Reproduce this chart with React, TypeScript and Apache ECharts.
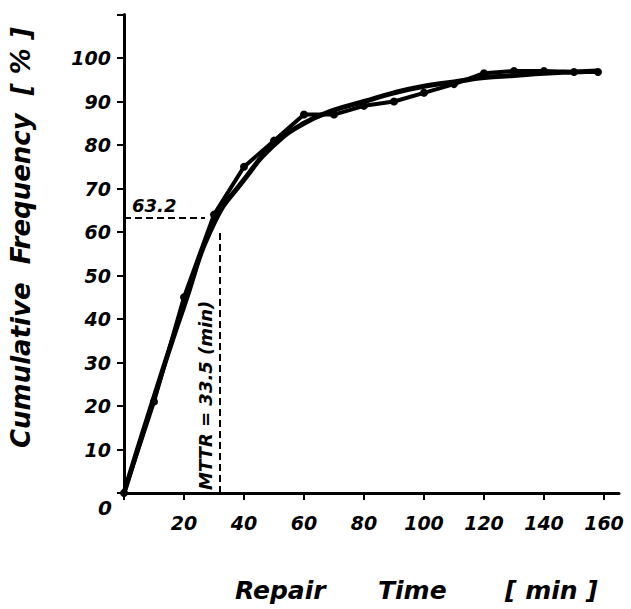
import React, { useEffect, useRef } from "react";
import * as echarts from "echarts";

const times = [0, 10, 20, 30, 40, 50, 60, 70, 80, 90, 100, 110, 120, 130, 140, 150, 158];
const empirical = [0, 21, 45, 64, 75, 81, 87, 87, 89, 90, 92, 94, 96.5, 97, 97, 96.8, 96.8];
const fitted = [0, 22, 43, 62, 72, 80, 85, 88, 90, 92, 93.5, 94.5, 95.5, 96, 96.5, 96.8, 97];
const mttr = 32;
const level = 63.2;
const xTickLabels = ["", "20", "40", "60", "80", "100", "120", "140", "160"];
const yTickLabels = ["", "10", "20", "30", "40", "50", "60", "70", "80", "90", "100", ""];

const FONT = "DejaVu Sans";

export default function App() {
  const ref = useRef<HTMLDivElement>(null);
  useEffect(() => {
    if (!ref.current) return;
    const chart = echarts.init(ref.current, undefined, { renderer: "svg" });
    const lineStyleAxis = { color: "#000", width: 3 };
    const labelFont = {
      color: "#000",
      fontFamily: FONT,
      fontStyle: "italic",
      fontWeight: "bold",
      fontSize: 19,
    };
    chart.setOption({
      animation: false,
      backgroundColor: "#fff",
      grid: { left: 124, right: 12, top: 14.5, bottom: 116, containLabel: false },
      xAxis: {
        type: "value",
        min: 0,
        max: 165,
        interval: 20,
        axisLine: { lineStyle: lineStyleAxis },
        axisTick: { length: 7, lineStyle: { color: "#000", width: 2 } },
        splitLine: { show: false },
        axisLabel: {
          ...labelFont,
          margin: 20,
          showMaxLabel: false,
          formatter: (v: number) => xTickLabels[Math.round(v / 20)] ?? "",
        },
      },
      yAxis: {
        type: "value",
        min: 0,
        max: 110,
        interval: 10,
        axisLine: { show: true, lineStyle: lineStyleAxis },
        axisTick: { show: true, length: 7, lineStyle: { color: "#000", width: 2 } },
        splitLine: { show: false },
        axisLabel: {
          ...labelFont,
          margin: 13,
          formatter: (v: number) => yTickLabels[Math.round(v / 10)] ?? "",
        },
      },
      series: [
        {
          type: "line",
          data: times.map((t, i) => [t, fitted[i]]),
          smooth: true,
          symbol: "none",
          lineStyle: { color: "#000", width: 5 },
        },
        {
          type: "line",
          data: times.map((t, i) => [t, empirical[i]]),
          symbol: "circle",
          symbolSize: 8,
          itemStyle: { color: "#000" },
          lineStyle: { color: "#000", width: 4 },
        },
        {
          type: "line",
          data: [[0, level], [27, level]],
          symbol: "none",
          lineStyle: { color: "#000", width: 2, type: [7, 4] },
        },
        {
          type: "line",
          data: [[mttr, 0], [mttr, 60]],
          symbol: "none",
          lineStyle: { color: "#000", width: 2, type: [7, 4] },
        },
      ],
      graphic: [
        {
          type: "text",
          x: 98,
          y: 498,
          style: { text: "0", fill: "#000", font: `italic bold 20px "${FONT}"` },
        },
        {
          type: "text",
          x: 132,
          y: 196,
          style: { text: "63.2", fill: "#000", font: `italic bold 18px "${FONT}"` },
        },
        {
          type: "text",
          x: 196,
          y: 490,
          rotation: Math.PI / 2,
          style: { text: "MTTR = 33.5 (min)", fill: "#000", font: `italic bold 18px "${FONT}"` },
        },
        {
          type: "text",
          x: 235,
          y: 578,
          style: { text: "Repair", fill: "#000", font: `italic bold 25px "${FONT}"` },
        },
        {
          type: "text",
          x: 378,
          y: 578,
          style: { text: "Time", fill: "#000", font: `italic bold 25px "${FONT}"` },
        },
        {
          type: "text",
          x: 505,
          y: 578,
          style: { text: "[ min ]", fill: "#000", font: `italic bold 25px "${FONT}"` },
        },
        {
          type: "text",
          x: 8,
          y: 448,
          rotation: Math.PI / 2,
          style: { text: "Cumulative  Frequency  [ % ]", fill: "#000", font: `italic bold 26px "${FONT}"` },
        },
      ],
    });
    return () => chart.dispose();
  }, []);
  return (
    <div
      ref={ref}
      style={{ position: "fixed", left: 0, top: 0, width: 631, height: 609 }}
    />
  );
}
